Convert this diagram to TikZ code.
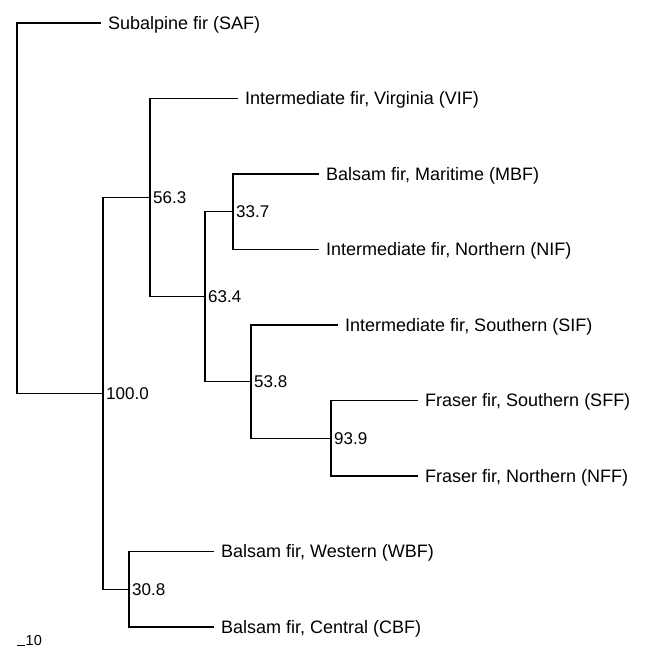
\documentclass[tikz,border=0pt]{standalone}
\usepackage{fontspec}
\setmainfont{Liberation Sans}
\begin{document}
\begin{tikzpicture}[x=1pt,y=-1pt,
  branch/.style={line width=1.3pt,line cap=rect},
  leaf/.style={anchor=base west,inner sep=0pt,font=\fontsize{18}{20}\selectfont},
  boot/.style={anchor=base west,inner sep=0pt,font=\fontsize{17}{20}\selectfont},
  scalelbl/.style={anchor=base west,inner sep=0pt,font=\fontsize{14.5}{16}\selectfont}]
\useasboundingbox (0,0) rectangle (646,648);
% leaf ends
\coordinate (eSAF) at (100,23);
\coordinate (eVIF) at (237,98.5);
\coordinate (eMBF) at (318,174);
\coordinate (eNIF) at (318,249.5);
\coordinate (eSIF) at (337,325);
\coordinate (eSFF) at (417,400.5);
\coordinate (eNFF) at (417,476);
\coordinate (eWBF) at (213,551.5);
\coordinate (eCBF) at (213,627);
% internal nodes
\coordinate (root) at (17,208.2);
\coordinate (n100) at (103,393.4);
\coordinate (n563) at (150,197.6);
\coordinate (n634) at (205,296.7);
\coordinate (n337) at (233,211.75);
\coordinate (n538) at (251,381.6);
\coordinate (n939) at (331,438.25);
\coordinate (n308) at (129,589.25);
% branches
\draw[branch] (root) |- (eSAF);
\draw[branch] (root) |- (n100);
\draw[branch] (n100) |- (n563);
\draw[branch] (n100) |- (n308);
\draw[branch] (n563) |- (eVIF);
\draw[branch] (n563) |- (n634);
\draw[branch] (n634) |- (n337);
\draw[branch] (n634) |- (n538);
\draw[branch] (n337) |- (eMBF);
\draw[branch] (n337) |- (eNIF);
\draw[branch] (n538) |- (eSIF);
\draw[branch] (n538) |- (n939);
\draw[branch] (n939) |- (eSFF);
\draw[branch] (n939) |- (eNFF);
\draw[branch] (n308) |- (eWBF);
\draw[branch] (n308) |- (eCBF);
% leaf labels
\node[leaf] (tSAF) at (108,29.4) {Subalpine fir (SAF)};
\node[leaf] (tVIF) at (245,104.9) {Intermediate fir, Virginia (VIF)};
\node[leaf] (tMBF) at (326,180.4) {Balsam fir, Maritime (MBF)};
\node[leaf] (tNIF) at (326,255.9) {Intermediate fir, Northern (NIF)};
\node[leaf] (tSIF) at (345,331.4) {Intermediate fir, Southern (SIF)};
\node[leaf] (tSFF) at (425,406.9) {Fraser fir, Southern (SFF)};
\node[leaf] (tNFF) at (425,482.4) {Fraser fir, Northern (NFF)};
\node[leaf] (tWBF) at (221,557.9) {Balsam fir, Western (WBF)};
\node[leaf] (tCBF) at (221,633.4) {Balsam fir, Central (CBF)};
% bootstrap values
\node[boot] (b100) at (106,399.5) {100.0};
\node[boot] (b563) at (153,203.7) {56.3};
\node[boot] (b634) at (208,302.8) {63.4};
\node[boot] (b337) at (236,217.9) {33.7};
\node[boot] (b538) at (254,387.7) {53.8};
\node[boot] (b939) at (334,444.4) {93.9};
\node[boot] (b308) at (132,595.4) {30.8};
% scale bar
\coordinate (sb0) at (17,645.5);
\coordinate (sb1) at (25,645.5);
\draw[line width=1pt] (sb0) -- (sb1);
\node[scalelbl] (sbl) at (25.5,645.5) {10};
\end{tikzpicture}
\end{document}
